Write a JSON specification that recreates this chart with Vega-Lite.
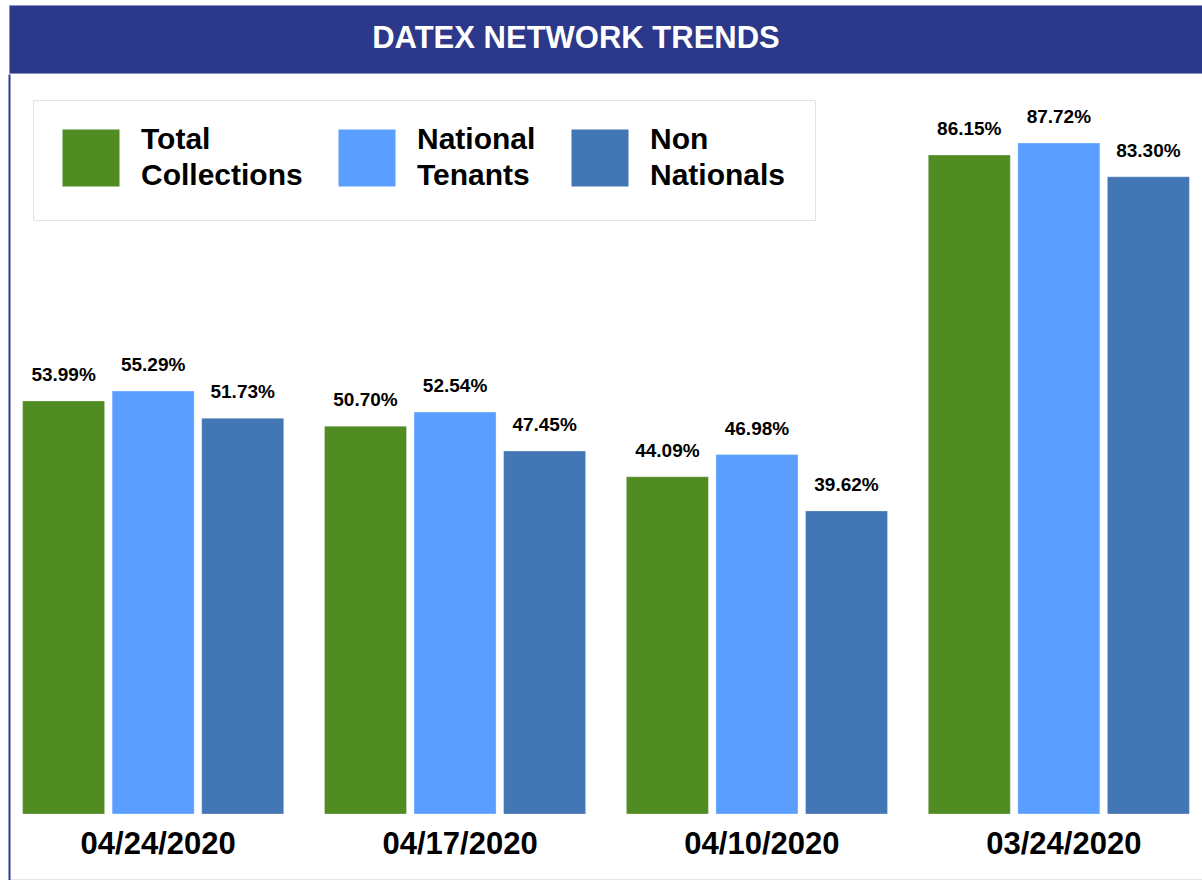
{
  "$schema": "https://vega.github.io/schema/vega-lite/v6.json",
  "background": "white",
  "padding": {"left": 8, "top": 4, "right": 0, "bottom": 0},
  "spacing": 0,
  "datasets": {
    "bars": [
      {"date": "04/24/2020", "series": "Total Collections", "value": 0.5399},
      {"date": "04/24/2020", "series": "National Tenants", "value": 0.5529},
      {"date": "04/24/2020", "series": "Non Nationals", "value": 0.5173},
      {"date": "04/17/2020", "series": "Total Collections", "value": 0.5070},
      {"date": "04/17/2020", "series": "National Tenants", "value": 0.5254},
      {"date": "04/17/2020", "series": "Non Nationals", "value": 0.4745},
      {"date": "04/10/2020", "series": "Total Collections", "value": 0.4409},
      {"date": "04/10/2020", "series": "National Tenants", "value": 0.4698},
      {"date": "04/10/2020", "series": "Non Nationals", "value": 0.3962},
      {"date": "03/24/2020", "series": "Total Collections", "value": 0.8615},
      {"date": "03/24/2020", "series": "National Tenants", "value": 0.8772},
      {"date": "03/24/2020", "series": "Non Nationals", "value": 0.8330}
    ],
    "dates": [
      {"date": "04/24/2020"},
      {"date": "04/17/2020"},
      {"date": "04/10/2020"},
      {"date": "03/24/2020"}
    ],
    "heading": [{"title": "DATEX NETWORK TRENDS"}]
  },
  "vconcat": [
    {
      "width": 1194,
      "height": 68,
      "view": {"fill": "#2c3889", "stroke": "#8a92c4", "strokeWidth": 1},
      "data": {"name": "heading"},
      "mark": {"type": "text", "font": "Liberation Sans", "fontSize": 31, "fontWeight": "bold", "color": "white", "baseline": "middle", "align": "center", "dx": -30},
      "encoding": {"text": {"field": "title", "type": "nominal"}}
    },
    {
      "width": 1194,
      "height": 806,
      "layer": [
        {
          "data": {"name": "bars"},
          "mark": {"type": "bar", "stroke": "white", "strokeWidth": 0.5, "strokeOpacity": 0.6},
          "encoding": {
            "x": {"field": "date", "type": "nominal", "sort": null,
                  "scale": {"paddingInner": 0.135, "paddingOuter": 0.045},
                  "axis": {"title": null, "labels": false, "ticks": false, "domain": true, "domainColor": "#c9cce2", "domainWidth": 2}},
            "xOffset": {"field": "series", "type": "nominal", "sort": null,
                        "scale": {"paddingInner": 0.084, "paddingOuter": 0}},
            "y": {"field": "value", "type": "quantitative",
                  "scale": {"domain": [-0.0863, 0.9673], "nice": false, "zero": false},
                  "axis": {"title": null, "labels": false, "ticks": false, "grid": false, "domain": true, "domainColor": "#2c3a8c", "domainWidth": 2}},
            "color": {"field": "series", "type": "nominal", "sort": null,
                      "scale": {"domain": ["Total Collections", "National Tenants", "Non Nationals"], "range": ["#508c22", "#5a9fff", "#4376b5"]},
                      "legend": {
                        "orient": "none", "legendX": 24, "legendY": 95, "direction": "horizontal", "title": null,
                        "symbolType": "square", "symbolSize": 3250, "symbolStrokeWidth": 0, "symbolOpacity": 1,
                        "labelFont": "Liberation Sans", "labelFontSize": 30, "labelFontWeight": "bold", "labelColor": "black",
                        "labelExpr": "split(datum.label, ' ')", "labelOffset": 21, "labelLimit": 0,
                        "columnPadding": 35, "padding": 29, "strokeColor": "#dfe1ee", "fillColor": "white",
                        "encode": {"legend": {"update": {"strokeWidth": {"value": 3}}}}
                      }}
          }
        },
        {
          "data": {"name": "bars"},
          "mark": {"type": "text", "font": "Liberation Sans", "fontSize": 19, "fontWeight": "bold", "color": "black", "baseline": "alphabetic", "align": "center", "dy": -20},
          "encoding": {
            "x": {"field": "date", "type": "nominal", "sort": null},
            "xOffset": {"field": "series", "type": "nominal", "sort": null},
            "y": {"field": "value", "type": "quantitative", "scale": {"domain": [-0.0863, 0.9673], "nice": false, "zero": false}},
            "text": {"field": "value", "type": "quantitative", "format": ".2%"}
          }
        },
        {
          "data": {"name": "dates"},
          "mark": {"type": "text", "font": "Liberation Sans", "fontSize": 31, "fontWeight": "bold", "color": "black", "baseline": "middle", "align": "center", "dx": 5},
          "encoding": {
            "x": {"field": "date", "type": "nominal", "sort": null},
            "y": {"datum": -0.041, "type": "quantitative", "scale": {"domain": [-0.0863, 0.9673], "nice": false, "zero": false}},
            "text": {"field": "date", "type": "nominal"}
          }
        }
      ]
    }
  ],
  "config": {
    "view": {"stroke": null},
    "font": "Liberation Sans",
    "style": {"guide-label": {"lineHeight": 36, "dy": -18}}
  }
}
